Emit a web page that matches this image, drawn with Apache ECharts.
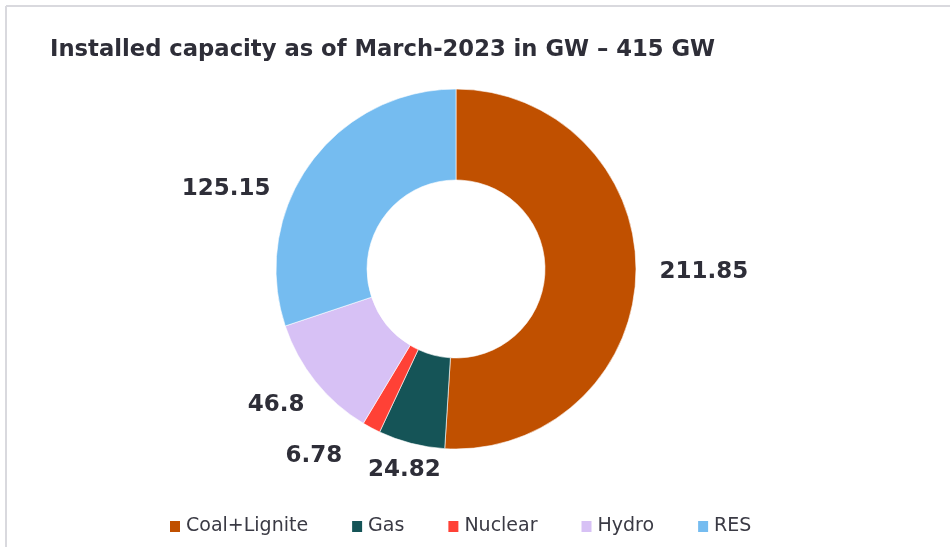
<!DOCTYPE html>
<html>
<head>
<meta charset="utf-8">
<script src="https://cdn.jsdelivr.net/npm/echarts@6/dist/echarts.min.js"></script>
<style>html,body{margin:0;padding:0;background:#fff}#c{width:950px;height:547px}</style>
</head>
<body>
<div id="c"></div>
<script>
const categories = ['Coal+Lignite', 'Gas', 'Nuclear', 'Hydro', 'RES'];
const values = [211.85, 24.82, 6.78, 46.8, 125.15];
const colors = ['#C05000', '#155457', '#FF4136', '#D7C1F5', '#75BCF0'];
const titleText = 'Installed capacity as of March-2023 in GW \u2013 415 GW';
// label nudges (style only) relative to ring mid-point
const labelNudge = [[20, -4], [5, -20], [-35, -14], [-2, -7], [-45, 53]];

const chart = echarts.init(document.getElementById('c'));
const data = categories.map((n, i) => ({ name: n, value: values[i], itemStyle: { color: colors[i] } }));
chart.setOption({
  animation: false,
  graphic: [
    { type: 'line', shape: { x1: 6, y1: 6, x2: 960, y2: 6 }, style: { stroke: '#D9D9DE', lineWidth: 2 }, silent: true },
    { type: 'line', shape: { x1: 6, y1: 6, x2: 6, y2: 560 }, style: { stroke: '#D9D9DE', lineWidth: 2 }, silent: true }
  ],
  title: {
    text: titleText, left: 45, top: 34,
    textStyle: { fontFamily: 'DejaVu Sans', fontWeight: 'bold', fontSize: 22.7, color: '#2E2E38' }
  },
  legend: {
    data: categories, bottom: 11, left: 168, padding: 0, itemWidth: 12, itemHeight: 13, itemGap: 42,
    icon: 'rect',
    textStyle: { fontFamily: 'DejaVu Sans', fontSize: 19, color: '#3A3A44' }
  },
  series: [{
    type: 'pie', center: [456, 269], radius: [89, 180], startAngle: 90, clockwise: true,
    avoidLabelOverlap: false, silent: true,
    itemStyle: { borderColor: '#ffffff', borderWidth: 0.6 },
    label: { show: false }, labelLine: { show: false },
    data: data
  }, {
    type: 'pie', center: [456, 269], radius: [200, 250], startAngle: 90, clockwise: true,
    avoidLabelOverlap: false, silent: true,
    itemStyle: { color: 'rgba(0,0,0,0)' },
    label: {
      show: true, position: 'inside', formatter: p => p.value,
      fontFamily: 'DejaVu Sans', fontWeight: 'bold', fontSize: 23, color: '#2E2E38'
    },
    labelLine: { show: false },
    labelLayout: p => ({ dx: labelNudge[p.dataIndex][0], dy: labelNudge[p.dataIndex][1] }),
    data: categories.map((n, i) => ({ name: n, value: values[i] }))
  }]
});
</script>
</body>
</html>
